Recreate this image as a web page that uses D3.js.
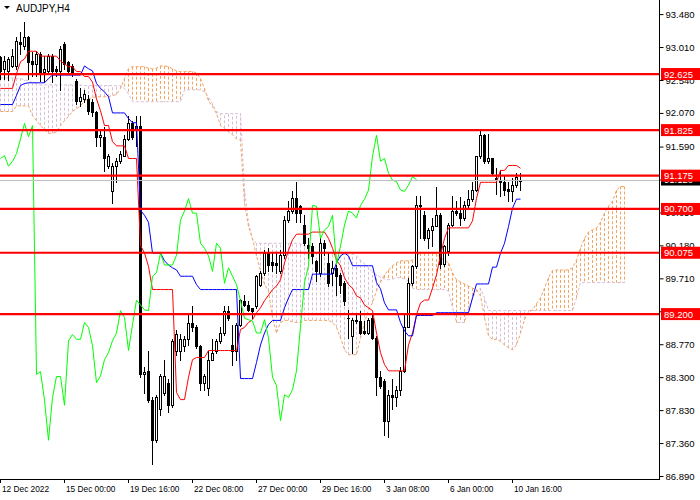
<!DOCTYPE html>
<html><head><meta charset="utf-8">
<script src="https://cdn.jsdelivr.net/npm/d3@7"></script>
<style>body{margin:0;background:#fff;} svg{display:block;}</style>
</head><body>
<svg id="c" width="700" height="500"></svg>
<script>
const symbol = "AUDJPY,H4";
const open = [
92.87,92.70,92.67,92.74,92.74,93.08,93.03,93.15,92.81,92.77,
92.91,92.66,92.67,92.88,92.70,92.67,93.05,92.80,92.74,92.53,
92.24,92.27,92.27,92.23,92.09,91.73,91.73,91.31,90.95,91.31,
91.38,91.46,91.70,91.92,91.82,91.89,88.34,88.39,87.97,87.40,
87.84,88.08,88.21,87.90,88.68,88.68,88.75,88.84,89.08,89.01,
88.75,88.22,88.15,88.55,88.68,88.82,88.93,89.25,88.76,88.68,
89.05,89.39,89.33,89.28,89.32,89.62,89.79,90.07,89.94,89.93,
89.82,90.04,90.54,90.67,90.85,90.74,90.47,90.18,90.17,89.96,
89.79,90.21,89.93,89.79,89.86,89.76,89.65,89.15,88.89,89.12,
89.10,88.96,88.93,89.15,88.86,88.30,88.25,87.68,88.05,88.02,
88.11,88.39,89.02,89.65,89.89,90.75,90.62,90.28,90.40,90.45,
90.62,89.91,90.10,90.47,90.67,90.64,90.57,90.75,90.84,90.97,
91.45,91.75,91.38,91.42,91.14,91.12,91.09,90.98,90.95,91.04,
91.10];
const high = [
92.88,92.88,92.87,92.98,93.15,93.22,93.37,93.17,92.94,92.95,
92.94,92.88,92.91,92.91,92.74,93.03,93.08,92.81,92.77,92.56,
92.42,92.39,92.32,92.27,92.10,91.82,91.87,91.49,91.35,91.42,
91.53,91.75,92.03,91.96,92.03,92.03,88.44,88.68,88.01,88.04,
88.34,88.54,88.27,88.84,88.98,88.91,88.89,89.19,89.32,89.05,
88.76,88.34,88.68,88.84,88.84,89.01,89.32,89.32,89.05,89.08,
89.42,89.47,89.39,89.29,89.76,89.82,90.11,90.14,90.07,90.07,
90.11,90.60,90.81,90.95,91.08,90.75,90.61,90.28,90.21,89.97,
90.28,90.26,90.07,89.96,89.90,89.79,89.67,89.26,89.15,89.22,
89.25,89.10,89.15,89.19,88.89,88.39,88.27,88.11,88.27,88.18,
88.44,89.19,89.72,89.90,90.89,90.88,90.67,90.43,90.57,91.01,
90.64,90.18,90.50,90.88,90.81,90.87,90.81,90.97,91.09,91.46,
91.83,91.77,91.77,91.43,91.29,91.25,91.18,91.09,91.14,91.21,
91.22];
const low = [
92.56,92.56,92.54,92.73,92.70,92.91,92.98,92.56,92.60,92.59,
92.53,92.51,92.63,92.51,92.60,92.39,92.70,92.63,92.59,92.20,
92.17,92.23,92.06,92.03,91.60,91.60,91.24,91.28,90.79,91.09,
91.35,91.46,91.68,91.70,91.60,88.30,88.08,87.94,87.06,87.37,
87.76,88.05,87.80,87.87,88.62,88.55,88.68,88.76,88.96,88.72,
88.11,88.11,88.04,88.54,88.65,88.79,88.90,89.12,88.48,88.55,
89.03,89.32,89.25,89.15,89.29,89.60,89.76,89.82,89.82,89.79,
89.79,90.00,90.52,90.64,90.52,90.52,90.18,90.00,89.93,89.67,
89.74,90.04,89.60,89.62,89.47,89.50,89.33,88.86,88.65,89.08,
88.91,88.91,88.91,88.84,88.05,88.15,87.47,87.44,87.84,87.89,
88.05,88.37,89.01,89.62,89.86,90.28,90.25,90.14,90.17,90.45,
89.86,89.89,90.04,90.45,90.61,90.47,90.54,90.71,90.81,90.95,
91.42,91.35,91.36,91.18,90.92,90.88,90.90,90.82,90.81,91.02,
90.97];
const close = [
92.67,92.81,92.84,92.88,93.10,93.05,93.15,92.80,92.77,92.91,
92.66,92.70,92.88,92.67,92.67,92.98,92.77,92.67,92.63,92.24,
92.30,92.34,92.10,92.09,91.73,91.75,91.42,91.46,91.31,91.38,
91.49,91.70,91.92,91.73,91.89,88.34,88.38,87.97,87.40,88.01,
88.31,88.31,87.90,88.82,88.91,88.84,88.84,89.08,89.01,88.75,
88.22,88.32,88.55,88.65,88.82,88.93,89.25,89.15,88.68,89.05,
89.40,89.33,89.26,89.25,89.74,89.79,90.07,89.90,89.90,89.90,
90.04,90.54,90.67,90.85,90.64,90.64,90.21,90.14,90.03,89.81,
90.21,90.14,89.64,89.86,89.74,89.62,89.39,89.14,89.12,89.10,
88.93,88.93,89.12,88.86,88.30,88.18,87.68,88.05,88.01,88.12,
88.39,89.02,89.65,89.89,90.75,90.74,90.28,90.40,90.45,90.61,
89.91,90.17,90.47,90.67,90.64,90.57,90.75,90.84,90.97,91.45,
91.75,91.38,91.42,91.21,91.11,91.09,90.97,90.95,91.04,91.16,
91.12];
const tenkan = [
92.42,92.42,92.42,92.42,92.63,92.80,92.84,92.95,92.95,92.95,
92.88,92.88,92.88,92.88,92.88,92.81,92.77,92.73,92.73,92.66,
92.66,92.59,92.59,92.51,92.27,92.10,91.89,91.89,91.66,91.60,
91.60,91.60,91.42,91.42,91.42,90.18,90.07,89.88,89.55,89.55,
89.55,89.55,89.55,89.55,88.08,87.98,87.98,88.30,88.55,88.58,
88.58,88.58,88.68,88.68,88.68,88.68,88.68,88.68,88.68,88.68,
88.98,89.01,89.08,89.12,89.22,89.29,89.39,89.47,89.55,89.60,
89.69,89.93,90.11,90.26,90.34,90.34,90.34,90.34,90.37,90.37,
90.37,90.37,90.28,90.14,89.97,89.89,89.72,89.62,89.57,89.46,
89.43,89.33,89.29,89.25,88.93,88.65,88.48,88.39,88.39,88.39,
88.39,88.39,88.76,88.93,89.19,89.36,89.40,89.40,89.57,89.76,
90.04,90.28,90.43,90.43,90.43,90.43,90.43,90.43,90.53,90.85,
91.08,91.08,91.08,91.08,91.08,91.25,91.25,91.32,91.32,91.32,
91.28];
const kijun = [
92.19,92.19,92.19,92.19,92.32,92.46,92.49,92.50,92.50,92.50,
92.50,92.50,92.56,92.61,92.61,92.61,92.61,92.61,92.61,92.61,
92.61,92.74,92.70,92.67,92.49,92.42,92.37,92.30,92.07,92.07,
92.07,92.07,91.99,91.93,91.93,90.68,90.61,90.51,90.07,90.07,
90.07,89.96,89.90,89.86,89.83,89.74,89.74,89.74,89.74,89.62,
89.55,89.55,89.55,89.55,89.55,89.55,89.55,89.55,89.55,89.55,
88.28,88.28,88.28,88.28,88.51,88.76,88.93,89.05,89.11,89.11,
89.11,89.29,89.43,89.55,89.55,89.55,89.55,89.55,89.77,89.77,
89.77,89.77,89.77,89.77,89.93,90.03,90.07,90.03,89.89,89.89,
89.89,89.89,89.89,89.89,89.65,89.56,89.36,89.26,89.26,89.26,
89.08,88.96,88.89,88.89,89.18,89.18,89.18,89.18,89.18,89.22,
89.22,89.22,89.22,89.22,89.22,89.22,89.22,89.22,89.43,89.63,
89.63,89.63,89.63,89.87,89.87,90.07,90.21,90.45,90.71,90.84,
90.84];
const spanA = [
92.09,92.09,92.09,92.09,92.17,92.17,92.17,92.17,92.03,91.96,
91.89,91.83,91.78,91.78,91.80,91.89,91.96,92.02,92.09,92.13,
92.17,92.24,92.27,92.29,92.30,92.30,92.30,92.30,92.32,92.33,
92.42,92.56,92.70,92.73,92.73,92.73,92.73,92.71,92.70,92.71,
92.74,92.74,92.73,92.70,92.67,92.66,92.66,92.66,92.66,92.64,
92.56,92.42,92.24,92.16,92.06,91.89,91.85,91.80,91.76,91.70,
91.68,90.78,90.45,90.28,90.03,89.82,89.62,89.53,89.15,88.93,
89.08,89.11,89.11,89.09,89.08,89.08,89.11,89.11,89.11,89.11,
89.11,89.11,89.11,89.08,89.01,88.86,88.69,88.62,88.62,88.62,
88.86,89.08,89.26,89.36,89.53,89.65,89.76,89.83,89.89,89.93,
89.96,89.96,89.96,89.97,90.03,90.07,90.07,90.07,90.07,90.06,
90.00,89.97,89.93,89.79,89.69,89.66,89.63,89.60,89.57,89.55,
89.46,89.15,88.89,88.84,88.84,88.81,88.76,88.72,88.69,88.76,
88.93,89.12,89.23,89.26,89.35,89.43,89.57,89.72,89.82,89.83,
89.83,89.83,89.83,89.86,89.97,90.14,90.28,90.37,90.40,90.43,
90.51,90.64,90.74,90.81,90.97,91.02,91.02];
const spanB = [
92.57,92.57,92.57,92.57,92.56,92.56,92.54,92.53,92.50,92.49,
92.47,92.47,92.47,92.47,92.47,92.47,92.47,92.47,92.47,92.47,
92.47,92.46,92.46,92.46,92.46,92.46,92.46,92.46,92.46,92.46,
92.46,92.42,92.34,92.23,92.23,92.23,92.23,92.23,92.23,92.23,
92.23,92.23,92.23,92.23,92.23,92.23,92.40,92.40,92.40,92.40,
92.40,92.37,92.30,92.20,92.09,92.06,92.06,92.06,92.06,92.06,
92.06,90.99,90.50,90.26,90.21,90.21,90.21,90.21,90.21,90.21,
90.21,90.21,90.21,90.21,90.21,90.20,90.17,90.14,90.10,90.07,
90.07,90.06,90.06,90.06,90.06,90.06,90.06,90.06,90.06,90.03,
89.97,89.92,89.86,89.80,89.76,89.73,89.70,89.69,89.70,89.72,
89.72,89.70,89.67,89.57,89.55,89.55,89.55,89.55,89.55,89.55,
89.55,89.55,89.53,89.29,89.08,89.08,89.08,89.29,89.43,89.53,
89.57,89.43,89.25,89.25,89.25,89.25,89.25,89.25,89.25,89.25,
89.25,89.25,89.25,89.25,89.25,89.25,89.25,89.25,89.25,89.25,
89.25,89.25,89.25,89.25,89.43,89.65,89.65,89.65,89.65,89.65,
89.65,89.65,89.65,89.65,89.65,89.65,89.65];
const chikouShift = 26;
const levels = [92.625, 91.825, 91.175, 90.700, 90.075, 89.200];
const priceTicks = [93.480, 93.010, 92.540, 92.070, 91.590, 91.120, 90.650, 90.180, 89.710, 89.240, 88.770, 88.300, 87.830, 87.360, 86.890];
const dateTickIdx = [0, 16, 32, 48, 64, 80, 96, 112, 128];
const dateTickLabels = ["12 Dec 2022","15 Dec 00:00","19 Dec 16:00","22 Dec 08:00","27 Dec 00:00","29 Dec 16:00","3 Jan 08:00","6 Jan 00:00","10 Jan 16:00"];

const FONT = "Liberation Sans, Arial, sans-serif";
const svg = d3.select("#c");
const plotR = 660, plotB = 479;
const x = d3.scaleLinear().domain([0, 165]).range([0, 660]);
const y = d3.scaleLinear().domain([86.89, 93.48]).range([476, 14.1]);
const cx = i => Math.round(x(i));

svg.append("defs").append("clipPath").attr("id","clip")
  .append("rect").attr("x",0).attr("y",0).attr("width",plotR).attr("height",plotB);

const g = svg.append("g").attr("clip-path","url(#clip)");

// cloud histogram
const cIdx = d3.range(spanA.length);
g.append("g").selectAll("line").data(cIdx).join("line")
  .attr("x1", i => cx(i)+0.5).attr("x2", i => cx(i)+0.5)
  .attr("y1", i => y(spanA[i])).attr("y2", i => y(spanB[i]))
  .attr("stroke", i => spanA[i] >= spanB[i] ? "#F4A460" : "#D8BFD8")
  .attr("stroke-width", 1).attr("stroke-dasharray","3,2");
const lineGen = d3.line().x((d,i) => cx(i)+0.5).y(d => y(d));
g.append("path").attr("d", lineGen(spanB)).attr("fill","none").attr("stroke","#D8BFD8").attr("stroke-dasharray","3,2");
g.append("path").attr("d", lineGen(spanA)).attr("fill","none").attr("stroke","#F4A460").attr("stroke-dasharray","3,2");

// candles
const kIdx = d3.range(close.length);
const cg = g.append("g").attr("shape-rendering","crispEdges");
kIdx.forEach(i => {
  const xc = cx(i);
  const yh = Math.round(y(high[i])), yl = Math.round(y(low[i]));
  cg.append("rect").attr("x", xc).attr("y", yh).attr("width",1).attr("height", Math.max(1, yl-yh+1)).attr("fill","#000");
  const yt = Math.round(y(Math.max(open[i], close[i])));
  const yb = Math.round(y(Math.min(open[i], close[i])));
  const h = Math.max(1, yb - yt + 1);
  cg.append("rect").attr("x", xc-1).attr("y", yt).attr("width",3).attr("height",h).attr("fill","#000");
  if (close[i] > open[i] && h > 2) {
    cg.append("rect").attr("x", xc).attr("y", yt+1).attr("width",1).attr("height",h-2).attr("fill","#fff");
  }
});

// ichimoku lines
g.append("path").attr("d", lineGen(tenkan)).attr("fill","none").attr("stroke","#FF0000").attr("stroke-width",1);
g.append("path").attr("d", lineGen(kijun)).attr("fill","none").attr("stroke","#0000FF").attr("stroke-width",1);
const chikou = close.slice(chikouShift);
g.append("path").attr("d", lineGen(chikou)).attr("fill","none").attr("stroke","#00FF00").attr("stroke-width",1);

// bid line
const last = close[close.length-1];
g.append("line").attr("x1",0).attr("x2",plotR).attr("y1",Math.round(y(last))+0.5).attr("y2",Math.round(y(last))+0.5)
  .attr("stroke","#C0C0C0").attr("stroke-width",1);

// horizontal levels
g.append("g").selectAll("line").data(levels).join("line")
  .attr("x1",0).attr("x2",plotR).attr("y1",d=>y(d)).attr("y2",d=>y(d))
  .attr("stroke","#FF0000").attr("stroke-width",2.2);

// frame
svg.append("line").attr("x1",plotR-0.5).attr("x2",plotR-0.5).attr("y1",0).attr("y2",plotB+0.5).attr("stroke","#000");
svg.append("line").attr("x1",0).attr("x2",plotR).attr("y1",plotB+0.5).attr("y2",plotB+0.5).attr("stroke","#000");

// price axis
const ay = svg.append("g").attr("transform",`translate(${plotR-0.5},0)`)
  .call(d3.axisRight(y).tickValues(priceTicks).tickFormat(d3.format(".3f")).tickSize(4).tickSizeOuter(0).tickPadding(2));
ay.select(".domain").remove();
ay.selectAll("line").attr("stroke","#000");
ay.selectAll("text").attr("font-family",FONT).attr("font-size",9.5).attr("fill","#000");

// date axis
const ax = svg.append("g").attr("transform",`translate(0,${plotB})`)
  .call(d3.axisBottom(x).tickValues(dateTickIdx).tickFormat((d,k)=>dateTickLabels[k]).tickSize(4).tickSizeOuter(0).tickPadding(3));
ax.select(".domain").remove();
ax.selectAll("line").attr("stroke","#000");
ax.selectAll("text").attr("font-family",FONT).attr("font-size",8.3).attr("fill","#000").attr("text-anchor","start").attr("dx",1.5);

// bid label
const yl0 = y(last);
svg.append("rect").attr("x",plotR+1).attr("y",yl0-6).attr("width",39).attr("height",12).attr("fill","#000");
svg.append("text").attr("x",plotR+4).attr("y",yl0+3.5).attr("font-family",FONT).attr("font-size",9.5).attr("fill","#fff").text(d3.format(".3f")(last));

// level labels
const lg = svg.append("g").selectAll("g").data(levels).join("g");
lg.append("rect").attr("x",plotR+1).attr("y",d=>y(d)-6).attr("width",39).attr("height",12).attr("fill","#FF0000");
lg.append("text").attr("x",plotR+4).attr("y",d=>y(d)+3.5).attr("font-family",FONT).attr("font-size",9.5).attr("fill","#fff").text(d=>d3.format(".3f")(d));

// title
svg.append("path").attr("d","M4,6 L10,6 L7,9 Z").attr("fill","#000");
svg.append("text").attr("x",16).attr("y",11.5).attr("font-family",FONT).attr("font-size",10).attr("fill","#000").text(symbol);
</script>
</body></html>
